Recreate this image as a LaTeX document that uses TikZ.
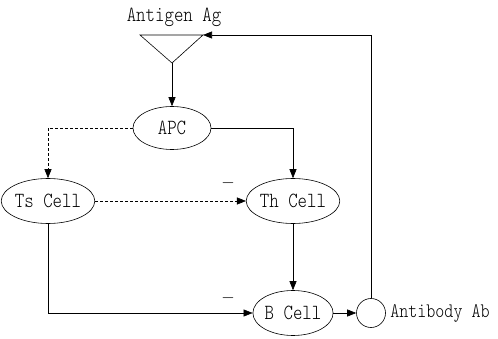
\documentclass[tikz,border=0pt]{standalone}
\usetikzlibrary{arrows.meta,shapes.geometric}
\newcommand{\lbl}[1]{\scalebox{1}[1.2]{#1}}
\begin{document}
\begin{tikzpicture}[x=1pt,y=-1pt,line width=0.6pt,
  >={Triangle[length=9pt,width=7pt]},
  cell/.style={draw,ellipse,inner sep=0pt,minimum width=80pt,minimum height=45pt,font=\ttfamily\fontseries{l}\fontsize{18}{18}\selectfont},
  txt/.style={inner sep=0pt,font=\ttfamily\fontseries{l}\fontsize{18}{18}\selectfont},
  dsh/.style={dashed,dash pattern=on 3pt off 2pt}]
\useasboundingbox (0,0) rectangle (498,339);
\coordinate (tl) at (140,35);
\coordinate (tr) at (203,35);
\coordinate (tap) at (172,63);
\draw (tl) -- (tr) -- (tap) -- cycle;
\node[txt] (ag) at (174,17) {\lbl{Antigen Ag}};
\node[cell,minimum width=78pt,minimum height=43pt] (apc) at (172,128) {\lbl{APC}};
\node[cell] (ts) at (48,201) {\lbl{Ts Cell}};
\node[cell] (th) at (293,201) {\lbl{Th Cell}};
\node[cell] (b) at (293,313) {\lbl{B Cell}};
\node[draw,circle,inner sep=0pt,minimum size=29pt] (ab) at (371,313) {};
\node[txt,anchor=west,font=\ttfamily\fontseries{l}\fontsize{17.2}{17.2}\selectfont] (abl) at (390,314) {\lbl{Antibody Ab}};
\node[txt] (m1) at (228,183) {$-$};
\node[txt] (m2) at (228,298) {$-$};
\draw[->] (tap) -- (apc.north);
\draw[->,dsh] (apc.west) -| (ts.north);
\draw[->] (apc.east) -| (th.north);
\draw[->,dsh] (ts.east) -- (th.west);
\draw[->] (th.south) -- (b.north);
\draw[->] (ts.south) |- (b.west);
\draw[->] (b.east) -- (ab.west);
\draw[->] (ab.north) |- (tr);
\end{tikzpicture}
\end{document}
